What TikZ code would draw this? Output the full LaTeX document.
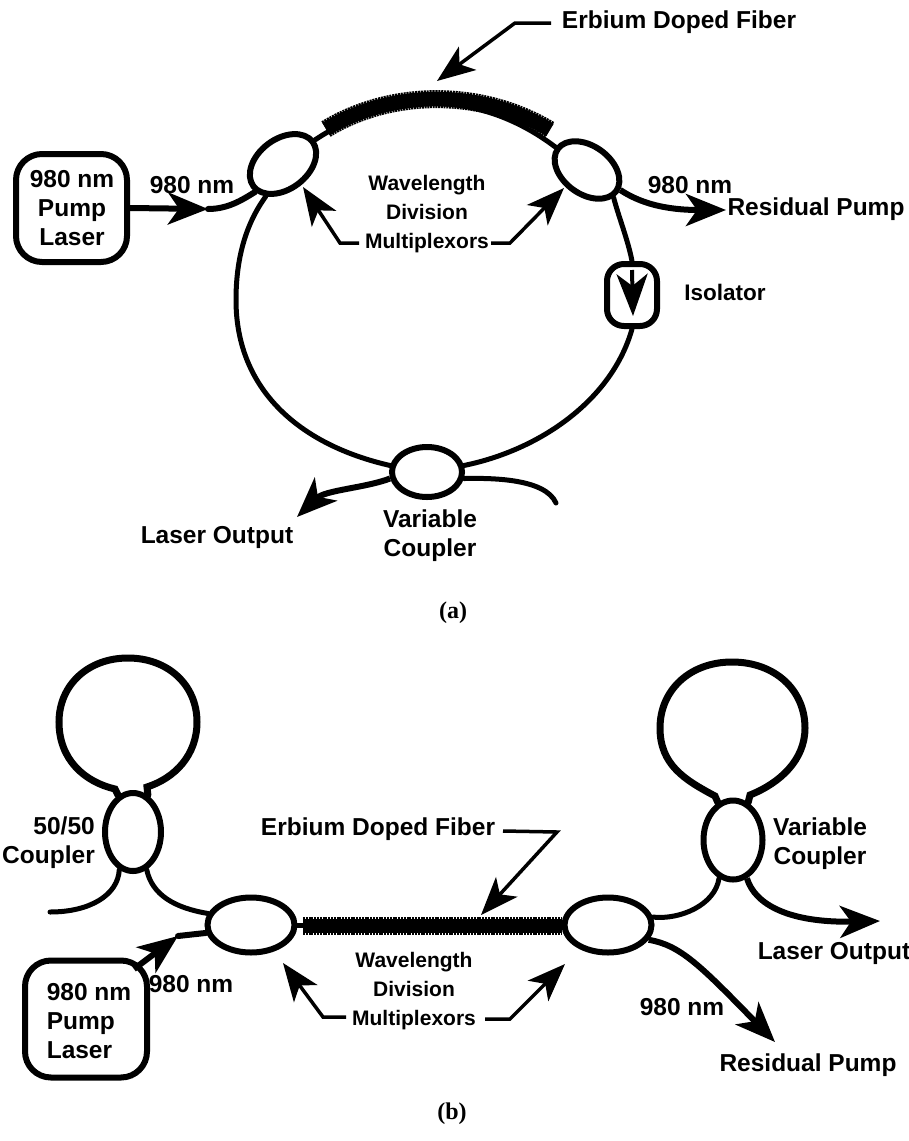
\documentclass[tikz,border=0pt]{standalone}
\usepackage{fontspec}
\setmainfont{Liberation Sans}
\newfontfamily\capfont{Liberation Serif}
\usetikzlibrary{arrows.meta,shapes.geometric}
\tikzset{
  fiber/.style={line width=5pt,line cap=round},
  heavy/.style={line width=6pt,line cap=round},
  oval/.style={draw,ellipse,line width=6pt,inner sep=0pt,fill=white},
  boxed/.style={draw,rounded corners=26pt,line width=6pt,inner sep=0pt},
  lbl/.style={font=\bfseries\fontsize{24.5}{29}\selectfont,align=center,inner sep=0pt},
  lblw/.style={font=\bfseries\fontsize{21}{29}\selectfont,align=center,inner sep=0pt},
  lblr/.style={font=\bfseries\fontsize{24.5}{29}\selectfont,align=right,inner sep=0pt},
  lbll/.style={font=\bfseries\fontsize{24.5}{29}\selectfont,align=left,inner sep=0pt},
  captionlbl/.style={font=\capfont\bfseries\fontsize{24}{28}\selectfont,inner sep=0pt},
  leader/.style={line width=3.5pt,line join=miter,-{Stealth[length=38pt,width=29pt,inset=10pt]}},
  bigarrow/.style={line width=6pt,-{Stealth[length=40pt,width=32pt,inset=11pt]}},
  dope/.style={line width=18pt,dash pattern=on 2pt off 0.8pt},
  dopecore/.style={line width=14.5pt},
}
\begin{document}
\begin{tikzpicture}[x=1pt,y=-1pt]
\useasboundingbox (0,0) rectangle (909,1141);
% ---------- (a) ----------
\node[oval,minimum width=74pt,minimum height=50pt,rotate=37] (aL) at (283,164) {};
\node[oval,minimum width=72pt,minimum height=48pt,rotate=-36] (aR) at (587,170) {};
\node[oval,minimum width=70pt,minimum height=50pt] (aB) at (427,472) {};
\node[boxed,minimum width=111pt,minimum height=108pt] (aPump) at (71.5,208) {};
\node[lbl] (aPumpT) at (72,208) {980 nm\\Pump\\Laser};
\node[draw,rounded corners=17pt,line width=6pt,minimum width=50pt,minimum height=62pt,inner sep=0pt] (aIso) at (632,295) {};
\coordinate (aIsoTop) at (632,270);
\coordinate (aIsoTip) at (633,316);
\draw[line width=4pt,-{Stealth[length=42pt,width=31pt,inset=12pt]}] (aIsoTop) -- (aIsoTip);
% ring
\draw[fiber] (aL.205) .. controls (245,225) and (236,260) .. (236,300)
   .. controls (236,390) and (300,445) .. (aB.170);
\draw[fiber] (aR.350) .. controls (618,215) and (628,240) .. (aIso.north);
\draw[fiber] (aIso.south) .. controls (612,400) and (540,450) .. (aB.10);
% doped fibre
\draw[fiber] (aL.east) .. controls (390,90) and (480,90) .. (aR.west);
\coordinate (aDa) at (326,129); \coordinate (aDb) at (550,130);
\draw[dope] (aDa) .. controls (392,89) and (482,89) .. (aDb);
\draw[dopecore] (aDa) .. controls (392,89) and (482,89) .. (aDb);
% pump and residual
\coordinate (aHead) at (208,209);
\draw[bigarrow] (aPump.east) -- (aHead);
\draw[heavy] (aHead) .. controls (228,209) and (242,200) .. (aL.188);
\coordinate (aResTip) at (726,210);
\draw[bigarrow] (aR.5) .. controls (640,203) and (665,210) .. (aResTip);
% output and tail
\coordinate (aOutTip) at (297,517);
\draw[bigarrow] (aB.190) .. controls (365,488) and (325,490) .. (aOutTip);
\coordinate (aTail) at (556,503);
\draw[fiber] (aB.350) .. controls (490,478) and (545,478) .. (aTail);
% labels a
\node[lbl] (aErbT) at (679,22) {Erbium Doped Fiber};
\coordinate (aErbS) at (551,23); \coordinate (aErbK) at (515,23); \coordinate (aErbTip) at (437,81);
\draw[leader] (aErbS) -- (aErbK) -- (aErbTip);
\node[lbl] (a980L) at (192,185) {980 nm};
\node[lbl] (a980R) at (690,185) {980 nm};
\node[lbl] (aResT) at (816,209) {Residual Pump};
\node[lblw] (aWDM) at (427,214) {Wavelength\\Division\\Multiplexors};
\coordinate (aWk1) at (340,243); \coordinate (aWt1) at (303,187);
\coordinate (aWs1) at (359,243); \coordinate (aWs2) at (491,243);
\coordinate (aWk2) at (510,243); \coordinate (aWt2) at (564,188);
\draw[leader] (aWs1) -- (aWk1) -- (aWt1);
\draw[leader] (aWs2) -- (aWk2) -- (aWt2);
\node[lbl,font=\bfseries\fontsize{22.5}{29}\selectfont] (aIsoT) at (725,292) {Isolator};
\node[lbl] (aOutT) at (217,537) {Laser Output};
\node[lbl] (aVC) at (430,536) {Variable\\Coupler};
\node[captionlbl] (aCap) at (453,613) {(a)};
% ---------- (b) ----------
\node[oval,minimum width=56pt,minimum height=78pt] (bC) at (133,832) {};
\node[oval,minimum width=87pt,minimum height=55pt] (bL) at (251,925) {};
\node[oval,minimum width=87pt,minimum height=55pt] (bR) at (608,925) {};
\node[oval,minimum width=59pt,minimum height=79pt] (bV) at (733,840) {};
\node[boxed,minimum width=122pt,minimum height=117pt] (bPump) at (86,1019) {};
\node[lbll] (bPumpT) at (89,1021) {980 nm\\Pump\\Laser};
% left loop
\draw[line width=7pt,line cap=round] (bC.112) -- (115,789) .. controls (85,782) and (59,760) .. (59,722)
  .. controls (59,685) and (88,658) .. (128,658) .. controls (168,658) and (197,685) .. (197,722)
  .. controls (197,755) and (175,778) .. (147,787) -- (bC.68);
% right loop
\draw[line width=7pt,line cap=round] (bV.112) -- (715,796) .. controls (685,780) and (660,765) .. (660,728)
  .. controls (660,690) and (690,662) .. (732,662) .. controls (775,662) and (805,690) .. (805,728)
  .. controls (805,760) and (780,783) .. (750,795) -- (bV.68);
% left coupler to WDM
\coordinate (bTail) at (50,912);
\draw[fiber] (bC.250) .. controls (118,895) and (90,912) .. (bTail);
\draw[fiber] (bC.290) .. controls (152,895) and (175,908) .. (bL.165);
% pump arrow
\coordinate (bPumpOut) at (134,969);
\coordinate (bHead) at (178,936);
\draw[bigarrow] (bPumpOut) -- (bHead);
\draw[heavy] (bHead) -- (bL.190);
% doped
\draw[fiber] (bL.east) -- (bR.west);
\coordinate (bDa) at (303,926); \coordinate (bDb) at (561,926);
\draw[dope] (bDa) -- (bDb);
\draw[dopecore] (bDa) -- (bDb);
% right side
\draw[fiber] (bR.10) .. controls (680,920) and (715,905) .. (bV.250);
\coordinate (bOutTip) at (880,921);
\draw[bigarrow] (bV.290) .. controls (755,905) and (790,923) .. (bOutTip);
\coordinate (bResTip) at (775,1042);
\draw[bigarrow] (bR.340) .. controls (680,945) and (700,965) .. (bResTip);
% labels b
\node[lblr,anchor=east] (bFifty) at (95,843) {50/50\\Coupler};
\node[lbl] (bVT) at (820,844) {Variable\\Coupler};
\node[lbl] (bErbT) at (378,829) {Erbium Doped Fiber};
\coordinate (bErbS) at (503,831); \coordinate (bErbK) at (557,832); \coordinate (bErbTip) at (481,915);
\draw[leader] (bErbS) -- (bErbK) -- (bErbTip);
\node[lblw] (bWDM) at (414,991) {Wavelength\\Division\\Multiplexors};
\coordinate (bWs1) at (346,1017); \coordinate (bWk1) at (323,1017); \coordinate (bWt1) at (283,963);
\coordinate (bWs2) at (485,1019); \coordinate (bWk2) at (510,1019); \coordinate (bWt2) at (565,964);
\draw[leader] (bWs1) -- (bWk1) -- (bWt1);
\draw[leader] (bWs2) -- (bWk2) -- (bWt2);
\node[lbl] (b980L) at (191,984) {980 nm};
\node[lbl] (b980R) at (682,1007) {980 nm};
\node[lbl] (bOutT) at (834,953) {Laser Output};
\node[lbl] (bResT) at (808,1065) {Residual Pump};
\node[captionlbl] (bCap) at (452,1114) {(b)};
\end{tikzpicture}
\end{document}
